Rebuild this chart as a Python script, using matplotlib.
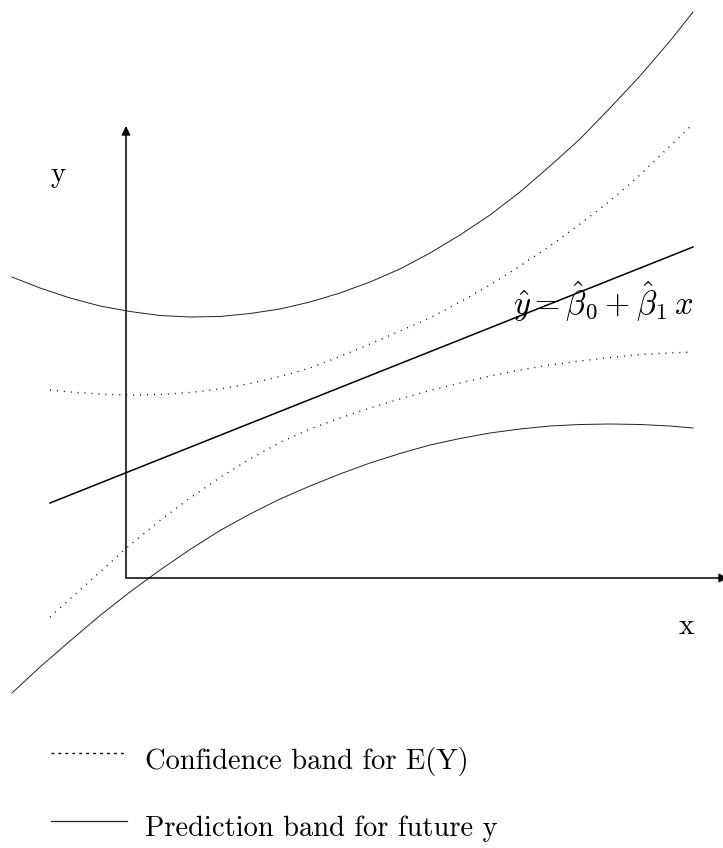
import matplotlib
matplotlib.use("Agg")
import matplotlib.pyplot as plt

plt.rcParams["mathtext.fontset"] = "cm"
plt.rcParams["font.family"] = ["cmr10", "DejaVu Serif"]
plt.rcParams["axes.unicode_minus"] = False

# fitted line y = b0 + b1 x (two end points)
fit_x = [-0.76, 5.67]
fit_y = [0.75, 3.31]

# confidence band for E(Y)
conf_x = [-0.76, -0.56, -0.26, 0.04, 0.34, 0.64, 0.94, 1.24, 1.54, 1.84, 2.14, 2.44,
          2.74, 3.04, 3.34, 3.64, 3.94, 4.24, 4.54, 4.84, 5.14, 5.44, 5.67]
conf_up = [1.88, 1.86, 1.84, 1.83, 1.835, 1.855, 1.89, 1.945, 2.015, 2.10, 2.215, 2.34,
           2.47, 2.60, 2.76, 2.93, 3.12, 3.32, 3.54, 3.77, 4.03, 4.32, 4.54]
conf_lo = [-0.39, -0.21, 0.06, 0.33, 0.575, 0.80, 1.005, 1.19, 1.355, 1.49, 1.60, 1.70,
           1.79, 1.875, 1.95, 2.02, 2.08, 2.13, 2.17, 2.205, 2.235, 2.25, 2.26]

# prediction band for a future y
pred_x = [-1.14, -0.86, -0.56, -0.26, 0.04, 0.34, 0.64, 0.94, 1.24, 1.54, 1.84, 2.14,
          2.44, 2.74, 3.04, 3.34, 3.64, 3.94, 4.24, 4.54, 4.84, 5.14, 5.44, 5.67]
pred_up = [3.01, 2.90, 2.80, 2.72, 2.665, 2.625, 2.61, 2.615, 2.645, 2.69, 2.76, 2.85,
           2.96, 3.09, 3.25, 3.43, 3.63, 3.86, 4.12, 4.39, 4.70, 5.02, 5.37, 5.66]
pred_lo = [-1.15, -0.89, -0.63, -0.375, -0.14, 0.08, 0.285, 0.475, 0.64, 0.79, 0.92, 1.04,
           1.15, 1.245, 1.33, 1.395, 1.45, 1.49, 1.52, 1.535, 1.54, 1.535, 1.52, 1.50]

legend_labels = ["Confidence band for E(Y)", "Prediction band for future y"]

fig = plt.figure(figsize=(7.23, 8.48), dpi=100)
ax = fig.add_axes([0, 0, 1, 1])
ax.set_xlim(-1.26, 5.97)
ax.set_ylim(-2.70, 5.78)
ax.axis("off")

dot_style = (0, (0.7, 4.3))

ax.plot(fit_x, fit_y, color="black", lw=1.1)
ax.plot(conf_x, conf_up, color="black", lw=1.0, ls=dot_style)
ax.plot(conf_x, conf_lo, color="black", lw=1.0, ls=dot_style)
ax.plot(pred_x, pred_up, color="#222222", lw=0.7)
ax.plot(pred_x, pred_lo, color="#222222", lw=0.7)

# coordinate axes with arrow heads
arrow = dict(arrowstyle="-|>", color="black", lw=1.1, mutation_scale=13,
             shrinkA=0, shrinkB=0)
ax.annotate("", xy=(0, 4.52), xytext=(0, 0), arrowprops=arrow)
ax.annotate("", xy=(6.02, 0), xytext=(0, 0), arrowprops=arrow, annotation_clip=False)

ax.text(-0.68, 4.03, "y", fontsize=21, ha="center", va="center")
ax.text(5.60, -0.49, "x", fontsize=21, ha="center", va="center")
ax.text(5.67, 2.63, r"$\hat{y} = \hat{\beta}_0 + \hat{\beta}_1\, x$", fontsize=23.5,
        ha="right", va="baseline")

# hand-made legend below the plot
ax.plot([-0.75, 0.01], [-1.75, -1.75], color="black", lw=1.0, ls=(0, (2, 3)),
        clip_on=False)
ax.text(0.19, -1.91, legend_labels[0], fontsize=20.5, ha="left", va="baseline")
ax.plot([-0.75, 0.01], [-2.43, -2.43], color="#222222", lw=0.9, clip_on=False)
ax.text(0.19, -2.58, legend_labels[1], fontsize=20.5, ha="left", va="baseline")

fig.savefig("out.png", dpi=100)
